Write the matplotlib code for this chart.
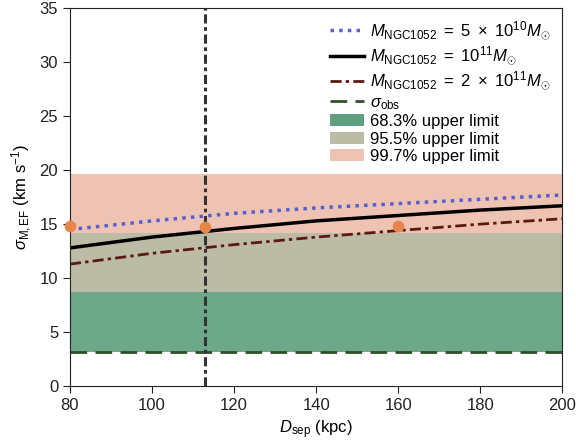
import numpy as np
import matplotlib.pyplot as plt
from matplotlib.patches import Patch
from matplotlib.lines import Line2D

plt.rcParams['font.family'] = ['Liberation Sans', 'DejaVu Sans']
plt.rcParams['mathtext.fontset'] = 'custom'
plt.rcParams['mathtext.rm'] = 'Liberation Sans'
plt.rcParams['mathtext.it'] = 'Liberation Sans:italic'
plt.rcParams['mathtext.bf'] = 'Liberation Sans:bold'

# 数据
d_sep = [80, 100, 120, 140, 160, 180, 200]
sig_5e10 = [14.5, 15.3, 16.0, 16.5, 16.9, 17.3, 17.7]
sig_1e11 = [12.8, 13.8, 14.6, 15.3, 15.8, 16.3, 16.7]
sig_2e11 = [11.3, 12.3, 13.1, 13.8, 14.4, 15.0, 15.5]

sigma_obs = 3.2
lim_683 = 8.7
lim_955 = 14.2
lim_997 = 19.6

d_marker = 113
pts_x = [80, 113, 160]
pts_y = [14.8, 14.7, 14.8]

fig = plt.figure(figsize=(5.76, 4.48), dpi=100)
ax = fig.add_axes([0.1215, 0.138, 0.855, 0.844])

# 置信带
ax.axhspan(sigma_obs, lim_683, color='#6ea88a', lw=0)
ax.axhspan(lim_683, lim_955, color='#bcbca6', lw=0)
ax.axhspan(lim_955, lim_997, color='#efc3b3', lw=0)

dashdot = (0, (4, 1.5, 1.2, 1.5))
ax.axhline(sigma_obs, color='#2f4f2a', ls=(0, (6, 3)), lw=2)
ax.plot(d_sep, sig_5e10, color='#5560d0', ls=(0, (1, 1.5)), lw=2.5)
ax.plot(d_sep, sig_1e11, color='black', lw=2.5)
ax.plot(d_sep, sig_2e11, color='#5a1a12', ls=dashdot, lw=2)
ax.axvline(d_marker, color='#333333', ls=(0, (3, 1.2, 1.2, 1.2)), lw=2.2)
ax.scatter(pts_x, pts_y, s=55, color='#e8854a', zorder=5, clip_on=False)

ax.set_xlim(80, 200)
ax.set_ylim(0, 35)
ax.set_xticks([80, 100, 120, 140, 160, 180, 200])
ax.set_yticks([0, 5, 10, 15, 20, 25, 30, 35])
ax.tick_params(direction='out', labelsize=12, length=5, colors='#222222')
for s in ax.spines.values():
    s.set_color('#222222')
ax.set_xlabel(r'$D_{\rm sep}$ (kpc)', fontsize=12)
ax.set_ylabel(r'$\sigma_{\rm M,EF}$ (km s$^{-1}$)', fontsize=12)

handles = [
    Line2D([], [], color='#5560d0', ls=(0, (1, 1.5)), lw=2.5),
    Line2D([], [], color='black', lw=2.5),
    Line2D([], [], color='#5a1a12', ls=dashdot, lw=2),
    Line2D([], [], color='#2f4f2a', ls=(0, (6, 3)), lw=2),
    Patch(color='#5f9e7e', lw=0),
    Patch(color='#bcbca6', lw=0),
    Patch(color='#efc3b3', lw=0),
]
labels = [
    r'$M_{\rm NGC1052}\ =\ 5\ \times\ 10^{10}M_{\odot}$',
    r'$M_{\rm NGC1052}\ =\ 10^{11}M_{\odot}$',
    r'$M_{\rm NGC1052}\ =\ 2\ \times\ 10^{11}M_{\odot}$',
    r'$\sigma_{\rm obs}$',
    '68.3% upper limit',
    '95.5% upper limit',
    '99.7% upper limit',
]
ax.legend(handles, labels, loc='upper right', frameon=False, fontsize=12,
          handlelength=2.0, handletextpad=0.4, labelspacing=0.15,
          borderaxespad=0.3)

plt.savefig('out.png', dpi=100)
